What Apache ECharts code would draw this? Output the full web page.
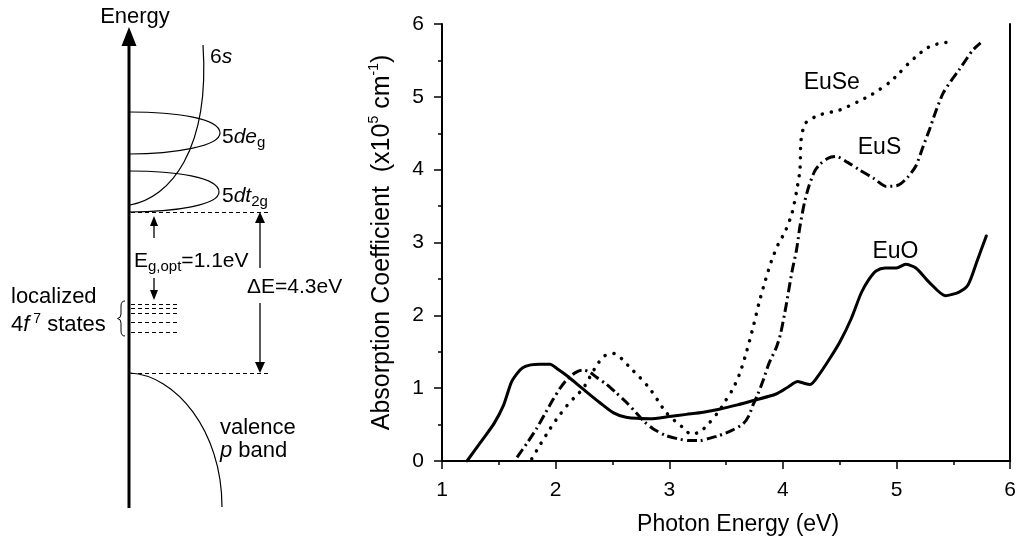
<!DOCTYPE html>
<html>
<head>
<meta charset="utf-8">
<script src="https://cdn.jsdelivr.net/npm/echarts@6/dist/echarts.min.js"></script>
<style>
html,body{margin:0;padding:0;background:#fff;}
#chart{width:1019px;height:541px;}
</style>
</head>
<body>
<div id="chart"></div>
<script>
// ---- data ----
const xTicks = [1, 2, 3, 4, 5, 6];
const yTicks = [0, 1, 2, 3, 4, 5, 6];
const seriesNames = ['EuO', 'EuS', 'EuSe'];
const euO = [[1.22,0],[1.36,0.30],[1.46,0.52],[1.54,0.76],[1.61,1.08],[1.66,1.20],[1.71,1.28],[1.78,1.32],[1.86,1.33],[1.95,1.33],[2.02,1.26],[2.10,1.17],[2.24,0.99],[2.39,0.80],[2.51,0.66],[2.62,0.60],[2.83,0.58],[3.00,0.61],[3.15,0.64],[3.30,0.67],[3.44,0.71],[3.60,0.77],[3.74,0.83],[3.94,0.92],[4.05,1.02],[4.13,1.09],[4.18,1.07],[4.24,1.05],[4.32,1.19],[4.41,1.40],[4.50,1.63],[4.60,1.95],[4.69,2.31],[4.76,2.50],[4.82,2.61],[4.90,2.65],[5.00,2.65],[5.08,2.70],[5.17,2.65],[5.29,2.45],[5.43,2.27],[5.55,2.32],[5.63,2.42],[5.71,2.75],[5.79,3.09]];
const euS = [[1.66,0.05],[1.75,0.25],[1.83,0.44],[1.91,0.66],[1.98,0.85],[2.04,1.00],[2.10,1.12],[2.17,1.21],[2.24,1.25],[2.30,1.22],[2.36,1.15],[2.45,1.05],[2.53,0.94],[2.62,0.81],[2.71,0.66],[2.78,0.54],[2.86,0.44],[2.97,0.35],[3.09,0.30],[3.18,0.28],[3.27,0.28],[3.35,0.31],[3.44,0.35],[3.55,0.42],[3.65,0.51],[3.70,0.62],[3.74,0.78],[3.78,0.92],[3.82,1.08],[3.88,1.35],[3.94,1.55],[3.98,1.75],[4.03,2.15],[4.08,2.60],[4.12,2.90],[4.15,3.22],[4.19,3.55],[4.23,3.78],[4.28,3.98],[4.33,4.08],[4.40,4.16],[4.47,4.18],[4.57,4.10],[4.67,4.00],[4.80,3.88],[4.91,3.77],[5.02,3.79],[5.10,3.90],[5.17,4.05],[5.23,4.30],[5.29,4.55],[5.35,4.82],[5.41,5.05],[5.48,5.22],[5.55,5.37],[5.62,5.53],[5.67,5.64],[5.74,5.74]];
const euSe = [[1.79,0.03],[1.87,0.24],[1.95,0.44],[2.02,0.60],[2.10,0.76],[2.17,0.88],[2.24,0.99],[2.30,1.15],[2.36,1.31],[2.42,1.43],[2.48,1.48],[2.53,1.47],[2.59,1.39],[2.65,1.29],[2.74,1.15],[2.83,0.99],[2.90,0.83],[2.97,0.67],[3.05,0.55],[3.12,0.46],[3.19,0.37],[3.27,0.40],[3.35,0.52],[3.44,0.69],[3.50,0.84],[3.56,0.99],[3.62,1.20],[3.68,1.50],[3.74,1.85],[3.79,2.17],[3.84,2.45],[3.90,2.75],[3.96,2.98],[4.02,3.15],[4.08,3.40],[4.12,3.70],[4.15,4.00],[4.16,4.41],[4.20,4.64],[4.32,4.75],[4.50,4.82],[4.67,4.94],[4.78,5.03],[4.85,5.10],[4.94,5.20],[5.02,5.32],[5.10,5.45],[5.17,5.55],[5.25,5.65],[5.32,5.71],[5.45,5.75]];
const labelPos = { EuO: [4.99, 2.88], EuS: [4.85, 4.30], EuSe: [4.43, 5.19] };

// ---- styling ----
const FONT = 'Liberation Sans, Arial, Helvetica, sans-serif';
const BLACK = '#000';

function seriesLabel(name) {
  return {
    symbol: 'circle', symbolSize: 1, silent: true,
    itemStyle: { color: 'rgba(0,0,0,0)' },
    label: { show: true, position: 'inside', formatter: name, color: BLACK, fontSize: 23, fontFamily: FONT },
    data: [{ coord: labelPos[name] }]
  };
}

// ---- left schematic (illustration, not data) ----
const thin = { stroke: BLACK, lineWidth: 1.2, fill: null };
const dashed = { stroke: BLACK, lineWidth: 1.1, lineDash: [4, 3] };
function txt(x, y, text, rich, extra) {
  return {
    type: 'text', x: x, y: y, silent: true,
    style: Object.assign({ text: text, fontSize: 21, fontFamily: FONT, fill: BLACK, align: 'left', verticalAlign: 'middle', rich: rich || {} }, extra || {})
  };
}
function seg(x1, y1, x2, y2, w) {
  return { type: 'line', silent: true, shape: { x1: x1, y1: y1, x2: x2, y2: y2 }, style: { stroke: BLACK, lineWidth: w || 1.2 } };
}
function dash(x1, x2, y) {
  return { type: 'line', silent: true, shape: { x1: x1, y1: y + 0.5, x2: x2, y2: y + 0.5 }, style: dashed };
}
function quad(x1, y1, cx, cy, x2, y2) {
  return { type: 'bezierCurve', silent: true, shape: { x1: x1, y1: y1, cpx1: cx, cpy1: cy, x2: x2, y2: y2 }, style: { stroke: BLACK, lineWidth: 1, fill: null } };
}
const richSub = {
  n: { fontSize: 21, fontFamily: FONT, lineHeight: 26 },
  i: { fontSize: 21, fontFamily: FONT, fontStyle: 'italic', lineHeight: 26 },
  b: { fontSize: 22, fontFamily: FONT, lineHeight: 26 },
  bi: { fontSize: 22, fontFamily: FONT, fontStyle: 'italic', lineHeight: 26 },
  sub: { fontSize: 15, fontFamily: FONT, lineHeight: 13, verticalAlign: 'bottom' },
  sup: { fontSize: 14, fontFamily: FONT, lineHeight: 13, verticalAlign: 'top' }
};
const schematic = [
  // energy axis
  seg(129, 40, 129, 508, 3),
  { type: 'polygon', shape: { points: [[121.5, 46], [136.5, 46], [129, 27]] }, style: { fill: BLACK } },
  txt(135, 17, 'Energy', null, { align: 'center', fontSize: 22 }),
  // 6s band
  { type: 'bezierCurve', shape: { x1: 130, y1: 205, cpx1: 170, cpy1: 198, cpx2: 210, cpy2: 150, x2: 203, y2: 45 }, style: thin },
  txt(210, 57, '{n|6}{i|s}', richSub),
  // 5d eg lobe
  { type: 'bezierCurve', shape: { x1: 129, y1: 112, cpx1: 175, cpy1: 112, cpx2: 220, cpy2: 118, x2: 220, y2: 133 }, style: thin },
  { type: 'bezierCurve', shape: { x1: 220, y1: 133, cpx1: 220, cpy1: 146, cpx2: 175, cpy2: 154, x2: 129, y2: 154 }, style: thin },
  txt(222, 137, '{n|5}{i|de}{sub|g}', richSub),
  // 5d t2g lobe
  { type: 'bezierCurve', shape: { x1: 129, y1: 171, cpx1: 175, cpy1: 171, cpx2: 219, cpy2: 177, x2: 219, y2: 192 }, style: thin },
  { type: 'bezierCurve', shape: { x1: 219, y1: 192, cpx1: 219, cpy1: 205, cpx2: 175, cpy2: 212, x2: 129, y2: 212 }, style: thin },
  txt(222, 196, '{n|5}{i|dt}{sub|2g}', richSub),
  // conduction band edge
  dash(131, 268, 212),
  // Eg,opt arrows
  seg(154, 224, 154, 238, 1.3),
  { type: 'polygon', shape: { points: [[150, 226], [158, 226], [154, 216]] }, style: { fill: BLACK } },
  txt(134, 261, '{n|E}{sub|g,opt}{n|=1.1eV}', richSub),
  seg(154, 278, 154, 292, 1.3),
  { type: 'polygon', shape: { points: [[150, 290], [158, 290], [154, 300]] }, style: { fill: BLACK } },
  // 4f localized states
  dash(131, 180, 304),
  dash(131, 180, 308),
  dash(131, 180, 313),
  dash(131, 180, 322),
  dash(131, 180, 332),
  // brace
  quad(125, 301, 121, 301, 121, 306),
  seg(121, 306, 121, 314, 1),
  quad(121, 314, 121, 318, 117.5, 318.5),
  quad(117.5, 318.5, 121, 319, 121, 323),
  seg(121, 323, 121, 331, 1),
  quad(121, 331, 121, 336, 125, 336),
  txt(11, 297, 'localized', null, { fontSize: 22 }),
  txt(11, 325, '{b|4}{bi|f}{sup| 7}{b| states}', richSub),
  // Delta E arrow
  seg(260, 220, 260, 268, 1.3),
  { type: 'polygon', shape: { points: [[255, 223], [265, 223], [260, 212]] }, style: { fill: BLACK } },
  txt(247, 287, '\u0394E=4.3eV', null),
  seg(260, 303, 260, 365, 1.3),
  { type: 'polygon', shape: { points: [[255, 362], [265, 362], [260, 373]] }, style: { fill: BLACK } },
  // valence band edge
  dash(131, 268, 373),
  { type: 'bezierCurve', shape: { x1: 130, y1: 373, cpx1: 175, cpy1: 375, cpx2: 222, cpy2: 430, x2: 222, y2: 507 }, style: thin },
  txt(220, 428, 'valence', null, { fontSize: 22 }),
  txt(220, 451, '{bi|p}{b| band}', richSub)
];

const axisCommon = {
  type: 'value',
  axisLine: { show: true, onZero: false, lineStyle: { color: BLACK, width: 2 } },
  axisTick: { show: true, inside: false, length: 8, lineStyle: { color: BLACK, width: 1.5 } },
  minorTick: { show: true, splitNumber: 2, length: 4, lineStyle: { color: BLACK, width: 1.5 } },
  splitLine: { show: false },
  minorSplitLine: { show: false },
  axisLabel: { color: BLACK, fontSize: 21, fontFamily: FONT }
};

const option = {
  animation: false,
  backgroundColor: '#fff',
  grid: { left: 442, right: 8, top: 24, bottom: 79, containLabel: false },
  xAxis: [
    Object.assign({}, axisCommon, {
      min: xTicks[0], max: xTicks[xTicks.length - 1], interval: 1,
      axisLabel: Object.assign({}, axisCommon.axisLabel, { margin: 19 }),
      name: 'Photon Energy (eV)', nameLocation: 'middle', nameGap: 52,
      nameTextStyle: { color: BLACK, fontSize: 23, fontFamily: FONT, padding: [0, 0, 0, 24] }
    }),
    { type: 'value', position: 'top', min: xTicks[0], max: xTicks[xTicks.length - 1],
      axisLine: { show: true, lineStyle: { color: BLACK, width: 2 } }, axisTick: { show: false }, axisLabel: { show: false }, splitLine: { show: false } }
  ],
  yAxis: [
    Object.assign({}, axisCommon, {
      min: yTicks[0], max: yTicks[yTicks.length - 1], interval: 1,
      axisLabel: Object.assign({}, axisCommon.axisLabel, { margin: 18 }),
      name: '{a|Absorption Coefficient  (x10}{s|5}{a| cm}{s|-1}{a|)}',
      nameLocation: 'middle', nameGap: 45, nameRotate: 90,
      nameTextStyle: {
        color: BLACK, fontSize: 25, fontFamily: FONT,
        rich: {
          a: { fontSize: 25, fontFamily: FONT, color: BLACK, lineHeight: 30 },
          s: { fontSize: 14, fontFamily: FONT, color: BLACK, lineHeight: 16, verticalAlign: 'top' }
        }
      }
    }),
    { type: 'value', position: 'right', min: yTicks[0], max: yTicks[yTicks.length - 1],
      axisLine: { show: true, lineStyle: { color: BLACK, width: 2 } }, axisTick: { show: false }, axisLabel: { show: false }, splitLine: { show: false } }
  ],
  series: [
    { name: seriesNames[0], type: 'line', data: euO, showSymbol: false, smooth: 0.25,
      lineStyle: { color: BLACK, width: 3, cap: 'round', join: 'round' }, markPoint: seriesLabel('EuO') },
    { name: seriesNames[1], type: 'line', data: euS, showSymbol: false, smooth: 0.25,
      lineStyle: { color: BLACK, width: 3, type: [10, 4, 2, 4], cap: 'butt' }, markPoint: seriesLabel('EuS') },
    { name: seriesNames[2], type: 'line', data: euSe, showSymbol: false, smooth: 0.25,
      lineStyle: { color: BLACK, width: 3.5, type: [0.1, 9], cap: 'round' }, markPoint: seriesLabel('EuSe') }
  ],
  graphic: schematic
};

const chart = echarts.init(document.getElementById('chart'), null, { renderer: 'canvas' });
chart.setOption(option);
</script>
</body>
</html>
